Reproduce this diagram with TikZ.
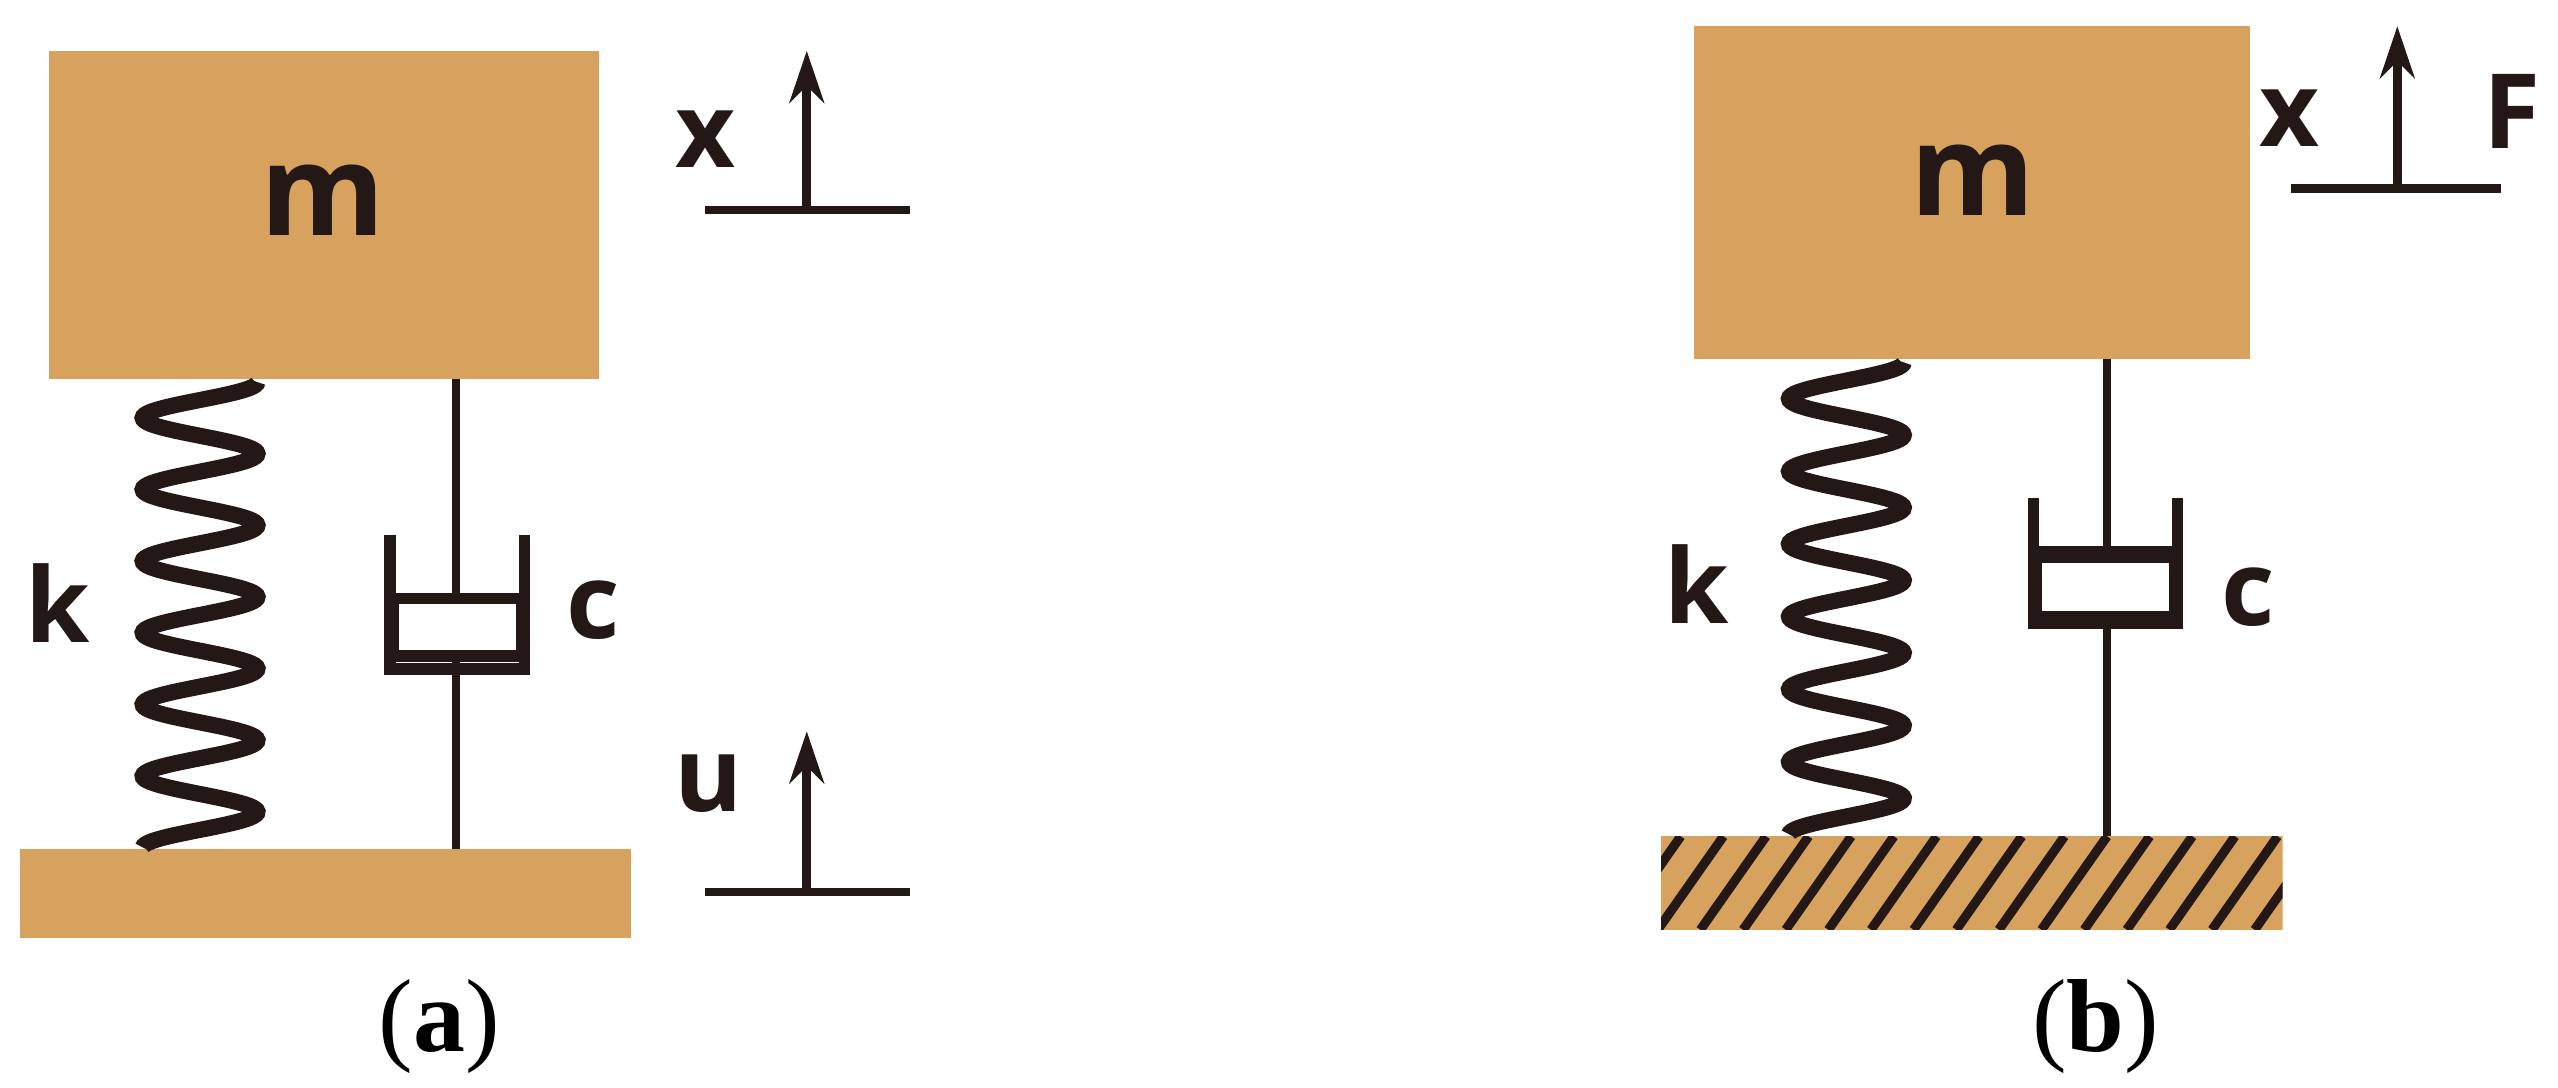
\documentclass[tikz,border=0pt]{standalone}
\usepackage{fontspec}
\setmainfont{Liberation Serif}
\newfontfamily\lab{Open Sans}
\usetikzlibrary{arrows.meta}
\definecolor{tan}{RGB}{214,162,94}
\definecolor{ink}{RGB}{35,24,21}
\begin{document}
\begin{tikzpicture}[x=0.01cm,y=-0.01cm,
  block/.style={fill=tan,draw=none},
  lbl/.style={text=ink,font=\lab\bfseries\fontsize{18}{18}\selectfont,inner sep=0},
  big/.style={text=ink,font=\lab\bfseries\fontsize{22}{22}\selectfont,inner sep=0},
  rod/.style={ink,line width=1.5pt},
  cup/.style={ink,line width=2pt},
  springline/.style={ink,line width=2.8pt},
  arr/.style={ink,line width=1.5pt,-{Stealth[length=9pt,width=6pt]}},
  captxt/.style={font=\fontsize{18}{18}\selectfont,inner sep=0}]
\useasboundingbox (0,0) rectangle (1560,663);
% ---------- (a)
\fill[block] (30,31) rectangle (365,231);
\node[big] (ma) at (197,122) {m};
\fill[block] (12,518) rectangle (385,572);
\draw[springline] plot[domain=0:1,samples=300,smooth] ({122+35*sin(360*6.5*\x+90)},{233+284*\x});
\draw[rod] (278,231) -- (278,365);
\draw[rod] (278,400) -- (278,518);
\draw[cup] (238,326) -- (238,408) -- (320,408) -- (320,326);
\draw[cup,fill=white] (240,365) rectangle (318,400);
\node[lbl] (ka) at (35,368) {k};
\node[lbl] (ca) at (362,372) {c};
\node[lbl] (xa) at (430,85) {x};
\coordinate (xa0) at (492,128); \coordinate (xa1) at (492,31);
\draw[rod] (430,128) -- (555,128);
\draw[arr] (xa0) -- (xa1);
\node[lbl] (ua) at (432,478) {u};
\coordinate (ua0) at (492,544); \coordinate (ua1) at (492,446);
\draw[rod] (430,544) -- (555,544);
\draw[arr] (ua0) -- (ua1);
\node[captxt] (capa) at (268,626) {(\textbf{a})};
% ---------- (b)
\fill[block] (1033,16) rectangle (1372,219);
\node[big] (mb) at (1203,110) {m};
\begin{scope}
\clip (1013,510) rectangle (1392,567);
\fill[tan] (1013,510) rectangle (1392,567);
\foreach \i in {0,...,16} {
  \draw[ink,line width=1.6pt] ({985+\i*26},567) -- ({1025+\i*26},510);
}
\end{scope}
\draw[springline] plot[domain=0:1,samples=300,smooth] ({1126+35*sin(360*6.5*\x+90)},{221+288*\x});
\draw[rod] (1285,219) -- (1285,336);
\draw[rod] (1285,376) -- (1285,510);
\draw[cup] (1240,304) -- (1240,380) -- (1328,380) -- (1328,304);
\draw[cup,fill=white] (1242,338) rectangle (1326,376);
\draw[ink,line width=3pt] (1241,338) -- (1327,338);
\node[lbl] (kb) at (1035,356) {k};
\node[lbl] (cb) at (1371,364) {c};
\node[lbl] (xb) at (1396,72) {x};
\node[lbl] (fb) at (1532,68) {F};
\coordinate (xb0) at (1462,115); \coordinate (xb1) at (1462,16);
\draw[rod] (1397,115) -- (1525,115);
\draw[arr] (xb0) -- (xb1);
\node[captxt] (capb) at (1278,626) {(\textbf{b})};
\end{tikzpicture}
\end{document}
